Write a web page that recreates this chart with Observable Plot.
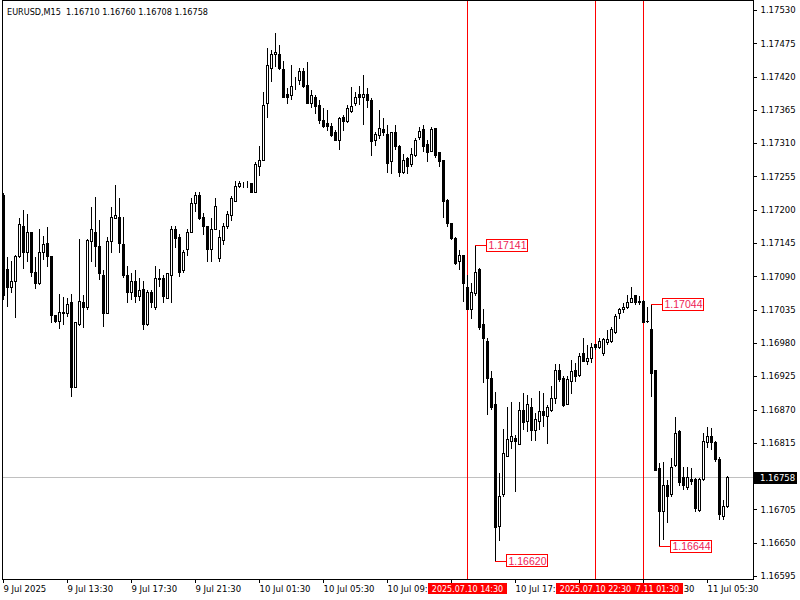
<!DOCTYPE html>
<html><head><meta charset="utf-8">
<script src="https://cdn.jsdelivr.net/npm/d3@7"></script>
<script src="https://cdn.jsdelivr.net/npm/@observablehq/plot@0.6"></script>
<style>
html,body{margin:0;padding:0;background:#fff;}
#chart{position:relative;width:800px;height:600px;overflow:hidden;}
svg text{white-space:pre;}
</style></head><body><div id="chart"></div>
<script>
const symbolTitle = "EURUSD,M15  1.16710 1.16760 1.16708 1.16758";
const open = [1.17224,1.17102,1.17072,1.17081,1.17122,1.17173,1.17130,1.17162,1.17096,1.17079,
1.17129,1.17145,1.17122,1.17025,1.17016,1.17029,1.17029,1.17046,1.16907,1.17010,
1.17046,1.17038,1.17148,1.17162,1.17140,1.17092,1.17029,1.17147,1.17186,1.17188,
1.17143,1.17092,1.17064,1.17082,1.17056,1.17069,1.17011,1.17063,1.17039,1.17086,
1.17086,1.17054,1.17092,1.17168,1.17155,1.17099,1.17134,1.17162,1.17211,1.17223,
1.17188,1.17172,1.17135,1.17168,1.17120,1.17150,1.17173,1.17190,1.17214,1.17239,
1.17243,1.17243,1.17243,1.17228,1.17272,1.17281,1.17376,1.17434,1.17456,1.17457,
1.17431,1.17390,1.17388,1.17404,1.17414,1.17428,1.17406,1.17376,1.17386,1.17373,
1.17348,1.17342,1.17338,1.17327,1.17315,1.17352,1.17345,1.17363,1.17375,1.17391,
1.17385,1.17391,1.17381,1.17314,1.17323,1.17333,1.17325,1.17279,1.17328,1.17304,
1.17262,1.17284,1.17274,1.17290,1.17320,1.17332,1.17307,1.17297,1.17335,1.17294,
1.17282,1.17216,1.17178,1.17153,1.17114,1.17125,1.17072,1.17035,1.17061,1.17101,
1.17010,1.16983,1.16921,1.16878,1.16676,1.16729,1.16793,1.16818,1.16822,1.16813,
1.16869,1.16850,1.16874,1.16835,1.16850,1.16866,1.16858,1.16869,1.16888,1.16935,
1.16922,1.16879,1.16916,1.16934,1.16927,1.16962,1.16950,1.16955,1.16977,1.16973,
1.16962,1.16980,1.16982,1.16997,1.17029,1.17035,1.17039,1.17046,1.17058,1.17049,
1.17049,1.17016,1.17003,1.16934,1.16772,1.16701,1.16744,1.16729,1.16778,1.16833,
1.16757,1.16742,1.16755,1.16754,1.16704,1.16754,1.16815,1.16825,1.16815,1.16788,
1.16693,1.16710];
const high = [1.17228,1.17122,1.17115,1.17125,1.17186,1.17200,1.17193,1.17163,1.17122,1.17168,
1.17157,1.17172,1.17124,1.17026,1.17061,1.17056,1.17054,1.17061,1.17015,1.17152,
1.17059,1.17152,1.17205,1.17221,1.17183,1.17101,1.17155,1.17205,1.17241,1.17219,
1.17188,1.17107,1.17096,1.17101,1.17087,1.17082,1.17067,1.17067,1.17107,1.17102,
1.17092,1.17094,1.17173,1.17173,1.17160,1.17134,1.17168,1.17219,1.17229,1.17229,
1.17195,1.17173,1.17186,1.17219,1.17167,1.17178,1.17198,1.17223,1.17248,1.17248,
1.17246,1.17248,1.17244,1.17279,1.17305,1.17394,1.17467,1.17464,1.17492,1.17472,
1.17446,1.17401,1.17439,1.17419,1.17434,1.17434,1.17444,1.17398,1.17390,1.17381,
1.17368,1.17365,1.17343,1.17332,1.17353,1.17356,1.17373,1.17403,1.17394,1.17404,
1.17423,1.17401,1.17385,1.17328,1.17365,1.17352,1.17340,1.17328,1.17340,1.17307,
1.17292,1.17287,1.17302,1.17318,1.17337,1.17340,1.17315,1.17337,1.17335,1.17295,
1.17282,1.17218,1.17178,1.17155,1.17134,1.17125,1.17092,1.17079,1.17141,1.17104,
1.17036,1.16988,1.16934,1.16899,1.16765,1.16838,1.16874,1.16883,1.16828,1.16883,
1.16897,1.16894,1.16889,1.16864,1.16901,1.16897,1.16878,1.16909,1.16945,1.16945,
1.16926,1.16926,1.16952,1.16947,1.16964,1.16988,1.16977,1.16980,1.16978,1.16988,
1.16988,1.17002,1.17006,1.17028,1.17038,1.17046,1.17059,1.17072,1.17059,1.17058,
1.17051,1.17040,1.17044,1.16935,1.16782,1.16784,1.16754,1.16790,1.16858,1.16836,
1.16775,1.16775,1.16774,1.16757,1.16757,1.16831,1.16841,1.16840,1.16818,1.16792,
1.16721,1.16760];
const low = [1.17051,1.17039,1.17063,1.17021,1.17120,1.17102,1.17114,1.17089,1.17069,1.17076,
1.17117,1.17105,1.17013,1.17013,1.17003,1.17010,1.17023,1.16891,1.16907,1.17008,
1.17005,1.17035,1.17114,1.17105,1.17084,1.17006,1.17029,1.17129,1.17185,1.17129,
1.17087,1.17046,1.17051,1.17046,1.17049,1.17002,1.17008,1.17038,1.17035,1.17072,
1.17046,1.17054,1.17046,1.17137,1.17089,1.17096,1.17124,1.17162,1.17196,1.17183,
1.17158,1.17114,1.17114,1.17167,1.17114,1.17142,1.17168,1.17181,1.17213,1.17236,
1.17236,1.17236,1.17228,1.17228,1.17256,1.17281,1.17352,1.17411,1.17436,1.17431,
1.17385,1.17375,1.17381,1.17398,1.17406,1.17401,1.17376,1.17368,1.17358,1.17342,
1.17335,1.17330,1.17320,1.17314,1.17299,1.17330,1.17343,1.17360,1.17371,1.17373,
1.17340,1.17368,1.17289,1.17305,1.17317,1.17322,1.17261,1.17259,1.17299,1.17254,
1.17259,1.17259,1.17271,1.17287,1.17315,1.17295,1.17279,1.17295,1.17286,1.17271,
1.17186,1.17172,1.17150,1.17109,1.17101,1.17048,1.17035,1.17020,1.17058,1.17002,
1.16914,1.16861,1.16869,1.16620,1.16653,1.16726,1.16792,1.16805,1.16734,1.16812,
1.16836,1.16833,1.16818,1.16818,1.16836,1.16841,1.16813,1.16866,1.16879,1.16916,
1.16874,1.16878,1.16896,1.16916,1.16924,1.16949,1.16944,1.16947,1.16968,1.16970,
1.16959,1.16977,1.16980,1.16995,1.17020,1.17029,1.17036,1.17046,1.17043,1.17043,
1.17013,1.17013,1.16891,1.16769,1.16644,1.16655,1.16683,1.16726,1.16775,1.16744,
1.16737,1.16737,1.16746,1.16701,1.16701,1.16752,1.16807,1.16803,1.16783,1.16688,
1.16688,1.16708];
const close = [1.17059,1.17072,1.17082,1.17122,1.17175,1.17129,1.17162,1.17096,1.17079,1.17130,
1.17142,1.17122,1.17025,1.17015,1.17031,1.17031,1.17044,1.16907,1.17013,1.17048,
1.17039,1.17150,1.17167,1.17139,1.17094,1.17029,1.17148,1.17188,1.17190,1.17145,
1.17091,1.17063,1.17082,1.17056,1.17067,1.17010,1.17063,1.17046,1.17087,1.17084,
1.17056,1.17094,1.17168,1.17153,1.17096,1.17130,1.17162,1.17210,1.17223,1.17185,
1.17172,1.17135,1.17168,1.17206,1.17155,1.17173,1.17193,1.17219,1.17238,1.17243,
1.17243,1.17243,1.17228,1.17274,1.17282,1.17373,1.17438,1.17456,1.17459,1.17434,
1.17386,1.17386,1.17404,1.17404,1.17428,1.17404,1.17376,1.17388,1.17371,1.17348,
1.17338,1.17337,1.17323,1.17314,1.17350,1.17345,1.17368,1.17371,1.17385,1.17386,
1.17391,1.17381,1.17312,1.17325,1.17335,1.17327,1.17277,1.17327,1.17305,1.17262,
1.17281,1.17272,1.17292,1.17314,1.17330,1.17304,1.17295,1.17333,1.17289,1.17279,
1.17213,1.17177,1.17152,1.17112,1.17124,1.17079,1.17036,1.17063,1.17097,1.17006,
1.16987,1.16922,1.16874,1.16675,1.16727,1.16797,1.16820,1.16825,1.16817,1.16869,
1.16848,1.16878,1.16835,1.16853,1.16866,1.16860,1.16873,1.16889,1.16935,1.16919,
1.16876,1.16919,1.16932,1.16924,1.16957,1.16950,1.16955,1.16973,1.16972,1.16983,
1.16985,1.16985,1.17003,1.17023,1.17035,1.17038,1.17046,1.17054,1.17046,1.17046,
1.17013,1.17015,1.16930,1.16769,1.16702,1.16744,1.16727,1.16775,1.16830,1.16749,
1.16744,1.16757,1.16751,1.16706,1.16755,1.16817,1.16825,1.16815,1.16788,1.16696,
1.16709,1.16758];

const timeTickIndex = [0,16,32,48,64,80,96,112,128,144,160,176];
const timeTickLabels = ["9 Jul 2025","9 Jul 13:30","9 Jul 17:30","9 Jul 21:30","10 Jul 01:30","10 Jul 05:30",
  "10 Jul 09:30","10 Jul 13:30","10 Jul 17:30","10 Jul 21:30","11 Jul 01:30","11 Jul 05:30"];
const priceTicks = [1.16595,1.16650,1.16705,1.16760,1.16815,1.16870,1.16925,1.16980,1.17035,
  1.17090,1.17145,1.17200,1.17255,1.17310,1.17365,1.17420,1.17475,1.17530];
const markerIndex = [116,148,160];
const markerLabels = ["2025.07.10 14:30","2025.07.10 22:30","2025.07.11 01:30"];
const swingIndex = [118,123,162,164];
const swingPrice = [1.17141,1.16620,1.17044,1.16644];
const bidPrice = 1.16758;

const FONT = "'DejaVu Sans', Verdana, sans-serif";
const LFONT = "'Liberation Sans', Arial, sans-serif";
const AXFS = 8.5;
const idx = d3.range(open.length);
const up = idx.filter(i => close[i] >= open[i]);
const down = idx.filter(i => close[i] < open[i]);
const sw = d3.range(swingIndex.length);

const chart = Plot.plot({
  width: 800, height: 600,
  marginTop: 0, marginBottom: 21, marginLeft: 2, marginRight: 47,
  style: {fontFamily: FONT, fontSize: AXFS + "px", background: "white", color: "black", overflow: "visible"},
  x: {domain: [-0.25, 187.5], axis: "bottom", ticks: timeTickIndex,
      tickFormat: d => timeTickLabels[timeTickIndex.indexOf(d)], tickSize: 4, tickPadding: 2, label: null},
  y: {domain: [1.1659004, 1.1754652], axis: "right", ticks: priceTicks,
      tickFormat: d => d.toFixed(5), tickSize: 3, tickPadding: 4, label: null},
  marks: [
    Plot.ruleY([bidPrice], {stroke: "#c0c0c0", shapeRendering: "crispEdges"}),
    Plot.ruleX(markerIndex, {stroke: "#ff0000", shapeRendering: "crispEdges"}),
    Plot.ruleX(idx, {x: i => i, y1: i => low[i], y2: i => high[i], stroke: "black", shapeRendering: "crispEdges"}),
    Plot.rect(down, {x1: i => i - 0.25, x2: i => i + 0.25, y1: i => open[i], y2: i => close[i],
      fill: "black", stroke: "black", shapeRendering: "crispEdges"}),
    Plot.rect(up, {x1: i => i - 0.25, x2: i => i + 0.25, y1: i => open[i], y2: i => close[i],
      fill: "white", stroke: "black", shapeRendering: "crispEdges"}),
    Plot.ruleY(sw, {y: k => swingPrice[k], x1: k => swingIndex[k], x2: k => swingIndex[k] + 2.9,
      stroke: "#ff0000", shapeRendering: "crispEdges"}),
    Plot.rect(sw, {x1: k => swingIndex[k] + 2.9, x2: k => swingIndex[k] + 13.1,
      y1: k => swingPrice[k] - 0.000097, y2: k => swingPrice[k] + 0.000097,
      fill: "white", stroke: "#ff0000", shapeRendering: "crispEdges"}),
    Plot.text(sw, {x: k => swingIndex[k] + 8, y: k => swingPrice[k], text: k => swingPrice[k].toFixed(5),
      fill: "#ee2255", fontSize: 10.5, fontFamily: LFONT}),
    Plot.frame({stroke: "black", shapeRendering: "crispEdges"})
  ]
});
document.getElementById("chart").appendChild(chart);

const svg = d3.select(chart);
svg.selectAll('g[aria-label^="x-axis"] text').attr("text-anchor", "start");
svg.selectAll('g[aria-label^="x-axis"]').attr("text-anchor", "start");
svg.selectAll('g[aria-label^="x-axis"] path, g[aria-label^="y-axis"] path, g[aria-label^="x-axis"] line, g[aria-label^="y-axis"] line')
  .attr("shape-rendering", "crispEdges");

// symbol / OHLC title in the chart's top-left corner
svg.append("text").attr("x", 7).attr("y", 15).attr("font-family", FONT).attr("font-size", 9.5)
  .attr("text-anchor", "start").attr("fill", "black")
  .attr("textLength", 201).attr("lengthAdjust", "spacingAndGlyphs").text(symbolTitle);

const xs = chart.scale("x"), ys = chart.scale("y");
// time-marker labels on the time axis
const tg = svg.append("g").attr("font-family", FONT).attr("font-size", 8);
[2, 1, 0].forEach(k => {
  const x = xs.apply(markerIndex[k]) + 0.5;
  const g = tg.append("g");
  const r = g.append("rect").attr("fill", "#ff0000");
  const t = g.append("text").attr("x", x).attr("y", 591.5).attr("text-anchor", "middle")
    .attr("fill", "white").text(markerLabels[k]);
  const bb = t.node().getBBox();
  r.attr("x", Math.round(bb.x - 4)).attr("y", 583).attr("width", Math.round(bb.width + 8)).attr("height", 11);
});
// current bid label on the price axis
const by = ys.apply(bidPrice);
const bg = svg.append("g").attr("font-family", FONT).attr("font-size", AXFS);
const br = bg.append("rect").attr("fill", "black");
const bt = bg.append("text").attr("x", 760).attr("y", by + 0.5).attr("dy", "0.32em")
  .attr("text-anchor", "start").attr("fill", "white").text(bidPrice.toFixed(5));
const bbb = bt.node().getBBox();
br.attr("x", 754).attr("y", Math.round(by - 5.5)).attr("width", Math.round(bbb.width + 8)).attr("height", 12);
</script></body></html>
